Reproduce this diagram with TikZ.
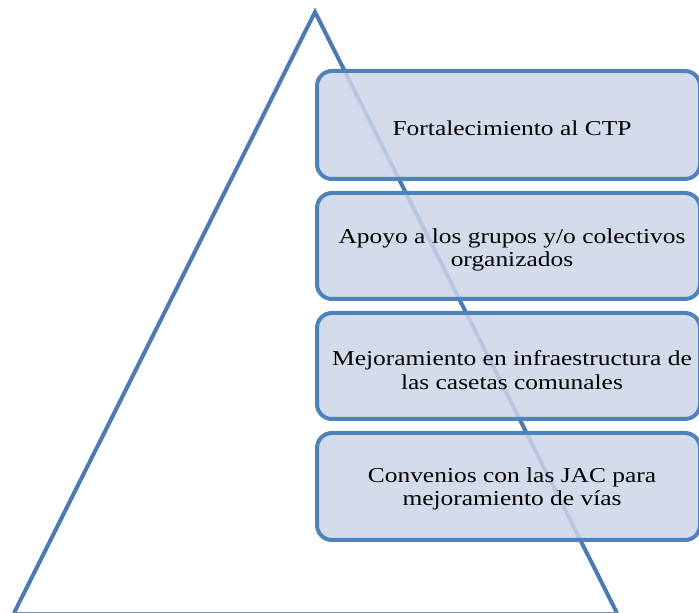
\documentclass[tikz,border=0pt]{standalone}
\usepackage{fontspec}
\setmainfont[FakeStretch=1.2]{Liberation Serif}
\begin{document}
\begin{tikzpicture}[x=1pt,y=1pt,
  tri/.style={draw=tline,line width=4pt,line join=miter},
  boxstyle/.style={draw=bline,line width=4pt,rounded corners=15pt,fill=bfill,fill opacity=0.85,draw opacity=1},
  lbl/.style={align=center,font=\fontsize{21.2}{23.5}\selectfont,text=black}]
\definecolor{tline}{HTML}{4A7AB5}
\definecolor{bline}{HTML}{4F81BD}
\definecolor{bfill}{HTML}{CDD6E8}
\useasboundingbox (0,0) rectangle (699,613);
\begin{scope}
\clip (0,0) rectangle (699,613);
\coordinate (apex) at (315,601);
\coordinate (bl) at (14,0);
\coordinate (br) at (617,0);
\draw[tri] (bl) -- (apex) -- (br);
\draw[draw=tline!80,line width=2.5pt] (bl) -- (br);
\path[boxstyle] (317,542) rectangle (700,434);
\path[boxstyle] (317,420) rectangle (700,314);
\path[boxstyle] (317,300) rectangle (700,194);
\path[boxstyle] (317,180) rectangle (700,73);
\end{scope}
\node[lbl] (t1) at (512,485) {Fortalecimiento al CTP};
\node[lbl] (t2) at (512,363) {Apoyo a los grupos y/o colectivos\\organizados};
\node[lbl] (t3) at (512,243) {Mejoramiento en infraestructura de\\las casetas comunales};
\node[lbl] (t4) at (512,124) {Convenios con las JAC para\\mejoramiento de vías};
\end{tikzpicture}
\end{document}
